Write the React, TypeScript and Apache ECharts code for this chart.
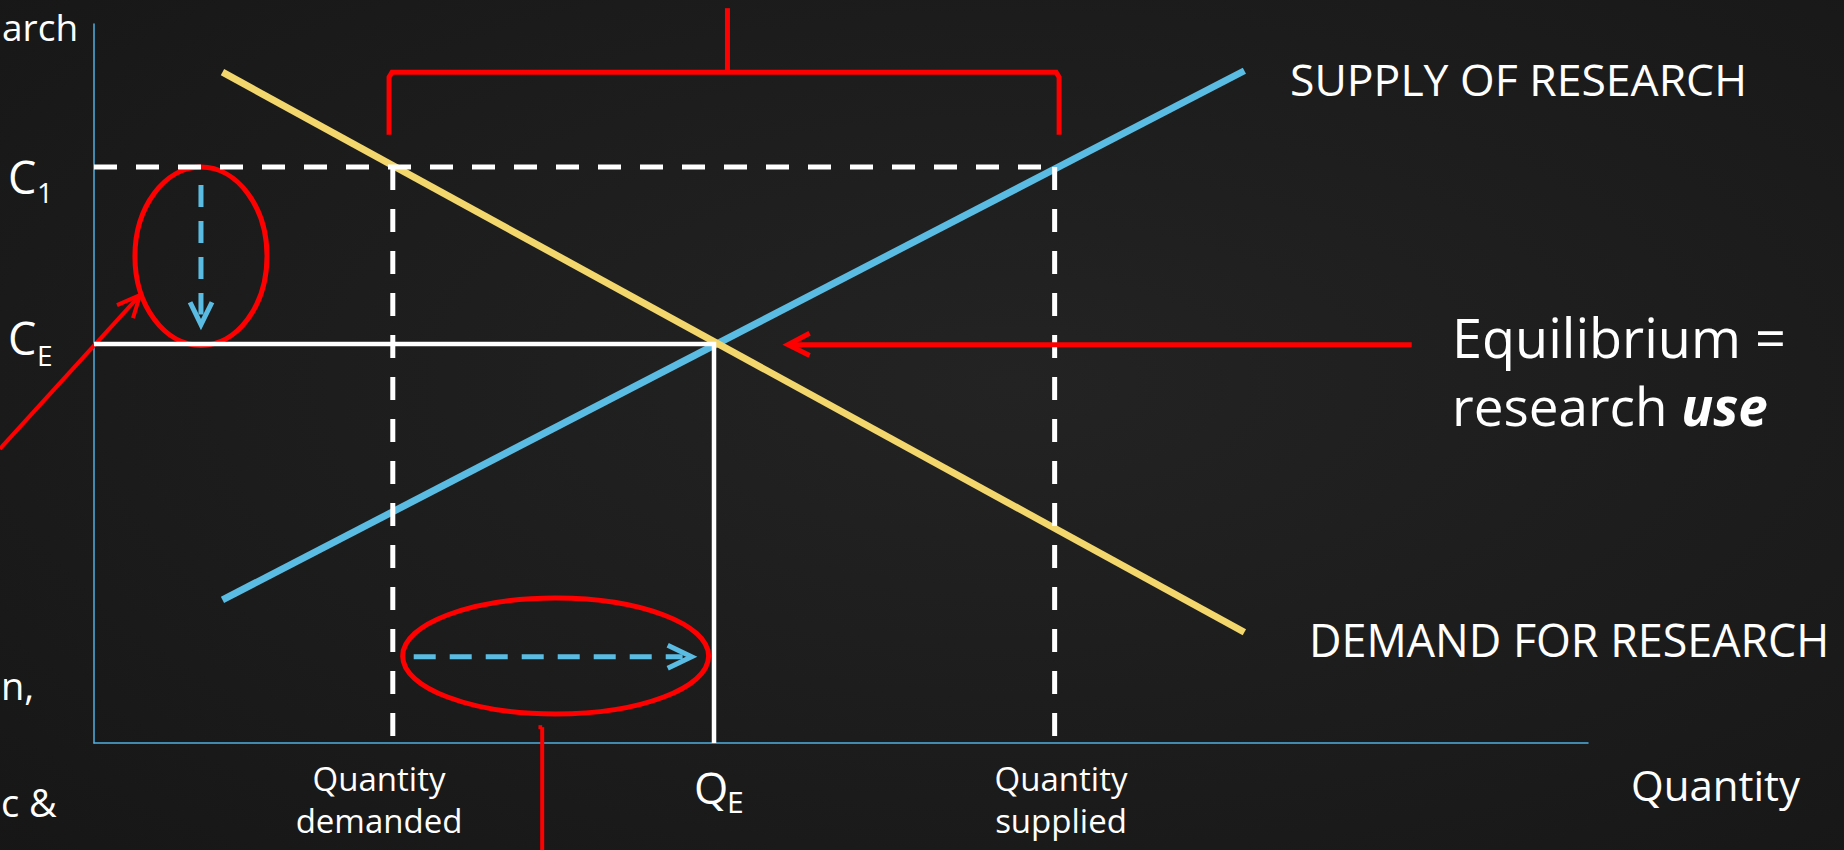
import { useEffect, useRef } from "react";
import * as echarts from "echarts";

// ---- axis extents (abstract units) ----
const xExtent = [0, 100];
const yExtent = [0, 100];

// ---- curves ----
const demandCurve = [[8.6, 93.3], [77.0, 15.4]];
const supplyCurve = [[8.6, 19.9], [77.0, 93.5]];

// ---- key levels ----
const quantityDemanded = 20.0;
const quantityEquilibrium = 41.5;
const quantitySupplied = 64.3;
const costHigh = 80.1;
const costEquilibrium = 55.5;

// ---- annotations (data units) ----
const annotationEllipses = [
  [7.16, 67.7, 4.42, 12.4],
  [30.9, 12.1, 10.24, 8.07],
];
const costArrowShaft = [[7.16, 77.6], [7.16, 59.6]];
const costArrowHead = [[6.43, 61.3], [7.16, 58.2], [7.9, 61.3]];
const quantityArrowShaft = [[21.4, 12.0], [39.4, 12.0]];
const quantityArrowHead = [[38.4, 13.6], [40.0, 12.0], [38.4, 10.4]];
const equilibriumPointer = [[88.2, 55.4], [46.6, 55.4]];
const equilibriumPointerHead = [[47.9, 57.0], [46.45, 55.4], [47.9, 53.9]];
const leftPointer = [[-6.3, 40.9], [3.08, 62.3]];
const leftPointerHead = [[1.54, 60.9], [3.08, 62.3], [2.61, 59.1]];
const bottomPointer = [[30.0, 2.2], [30.0, -15.0]];
const bottomPointerTick = [[29.75, 2.2], [30.0, 2.2]];
const gapBracket = [[19.75, 84.6], [19.75, 92.6], [19.95, 93.3], [64.4, 93.3], [64.6, 92.6], [64.6, 84.6]];
const gapBracketStem = [[42.4, 93.3], [42.4, 102.2]];

// ---- texts ----
const supplyLabel = "SUPPLY OF RESEARCH";
const demandLabel = "DEMAND FOR RESEARCH";
const equilibriumLine1 = "Equilibrium =";
const equilibriumLine2a = "research ";
const equilibriumLine2b = "use";
const xAxisName = "Quantity";
const qdLabel = "Quantity\ndemanded";
const qsLabel = "Quantity\nsupplied";

const YELLOW = "#F3D66C";
const BLUE = "#5BBCE3";
const RED = "#FF0000";
const WHITE = "#FFFFFF";
const AXIS = "#4FAFDF";
const FONT = "'Open Sans', 'Noto Sans', sans-serif";

function seg(data: number[][], color: string, width: number, dash?: any) {
  return {
    type: "line",
    data,
    symbol: "none",
    clip: false,
    silent: true,
    animation: false,
    lineStyle: { color, width, type: dash ?? "solid", cap: "butt", join: "miter" },
  };
}

// polyline drawn through the axes' scales without any clamping
function freeLine(data: number[][], color: string, width: number) {
  return {
    type: "custom",
    silent: true,
    clip: false,
    data: [0],
    renderItem: (params: any, api: any) => ({
      type: "polyline",
      shape: { points: data.map((p) => api.coord(p)) },
      style: { fill: "none", stroke: color, lineWidth: width, lineJoin: "miter" },
    }),
  };
}

function txt(text: string, x: number, y: number, size: number, align = "left", extra: any = {}) {
  return {
    type: "text",
    x,
    y,
    silent: true,
    style: {
      text,
      fill: WHITE,
      fontSize: size,
      fontFamily: FONT,
      align,
      textAlign: align,
      verticalAlign: "middle",
      textVerticalAlign: "middle",
      ...extra,
    },
  };
}

export default function App() {
  const ref = useRef<HTMLDivElement>(null);
  useEffect(() => {
    if (!ref.current) return;
    const chart = echarts.init(ref.current, undefined, { renderer: "svg" });
    const axisCommon = {
      type: "value",
      axisLine: { show: true, onZero: false, lineStyle: { color: AXIS, width: 1.5 } },
      axisTick: { show: false },
      axisLabel: { show: false },
      splitLine: { show: false },
    };
    chart.setOption({
      animation: false,
      backgroundColor: {
        type: "radial",
        x: 0.55,
        y: 0.45,
        r: 0.8,
        colorStops: [
          { offset: 0, color: "#232323" },
          { offset: 1, color: "#161616" },
        ],
      },
      grid: { left: 94, top: 24, width: 1494, height: 719, containLabel: false },
      xAxis: { ...axisCommon, min: xExtent[0], max: xExtent[1] },
      yAxis: { ...axisCommon, min: yExtent[0], max: yExtent[1] },
      series: [
        seg(supplyCurve, BLUE, 7),
        seg(demandCurve, YELLOW, 7),
        seg([[0, costHigh], [quantitySupplied, costHigh]], WHITE, 5, [23, 19]),
        seg([[quantityDemanded, costHigh], [quantityDemanded, 0]], WHITE, 5, [23, 19]),
        seg([[quantitySupplied, costHigh], [quantitySupplied, 0]], WHITE, 5, [23, 19]),
        seg([[0, costEquilibrium], [quantityEquilibrium, costEquilibrium], [quantityEquilibrium, 0]], WHITE, 4.5),
        seg(costArrowShaft, BLUE, 5, [22, 14]),
        seg(costArrowHead, BLUE, 5),
        seg(quantityArrowShaft, BLUE, 5, [22, 14]),
        seg(quantityArrowHead, BLUE, 5),
        seg(equilibriumPointer, RED, 5),
        seg(equilibriumPointerHead, RED, 5),
        freeLine(leftPointer, RED, 4),
        freeLine(leftPointerHead, RED, 4),
        freeLine(bottomPointer, RED, 4),
        freeLine(bottomPointerTick, RED, 4),
        freeLine(gapBracket, RED, 5),
        freeLine(gapBracketStem, RED, 5),
        {
          type: "custom",
          silent: true,
          data: annotationEllipses,
          renderItem: (params: any, api: any) => {
            const c = api.coord([api.value(0), api.value(1)]);
            const s = api.size([api.value(2), api.value(3)]);
            return {
              type: "ellipse",
              shape: { cx: c[0], cy: c[1], rx: s[0], ry: s[1] },
              style: { fill: "none", stroke: RED, lineWidth: 5 },
            };
          },
        },
      ],
      graphic: [
        txt(supplyLabel, 1290, 78, 44.5),
        txt(demandLabel, 1309, 639, 44.8),
        txt(equilibriumLine1, 1452, 337, 54),
        {
          type: "text",
          x: 1452,
          y: 405,
          silent: true,
          style: {
            text: `{n|${equilibriumLine2a}}{b|${equilibriumLine2b}}`,
            fill: WHITE,
            fontSize: 53,
            fontFamily: FONT,
            align: "left",
            verticalAlign: "middle",
            rich: {
              n: { fill: WHITE, color: WHITE, fontSize: 53, fontFamily: FONT },
              b: { fill: WHITE, color: WHITE, fontSize: 53, fontFamily: FONT, fontWeight: "bold", fontStyle: "italic" },
            },
          },
        },
        txt(xAxisName, 1631, 784, 42),
        txt(qdLabel, 379, 799, 33, "center", { lineHeight: 42 }),
        txt(qsLabel, 1061, 799, 33, "center", { lineHeight: 42 }),
        txt("Q", 694, 787, 44),
        txt("E", 727, 801, 30),
        txt("C", 8, 176, 45),
        txt("1", 37, 192, 28),
        txt("C", 8, 337, 45),
        txt("E", 37, 355, 28),
        txt("arch", 2, 26, 37),
        txt("n,", 1, 685, 38),
        txt("c &", 1, 802, 38),
      ],
    });
    return () => chart.dispose();
  }, []);
  return (
    <div
      ref={ref}
      style={{ position: "fixed", left: 0, top: 0, width: 1844, height: 850, background: "#1c1c1c" }}
    />
  );
}
